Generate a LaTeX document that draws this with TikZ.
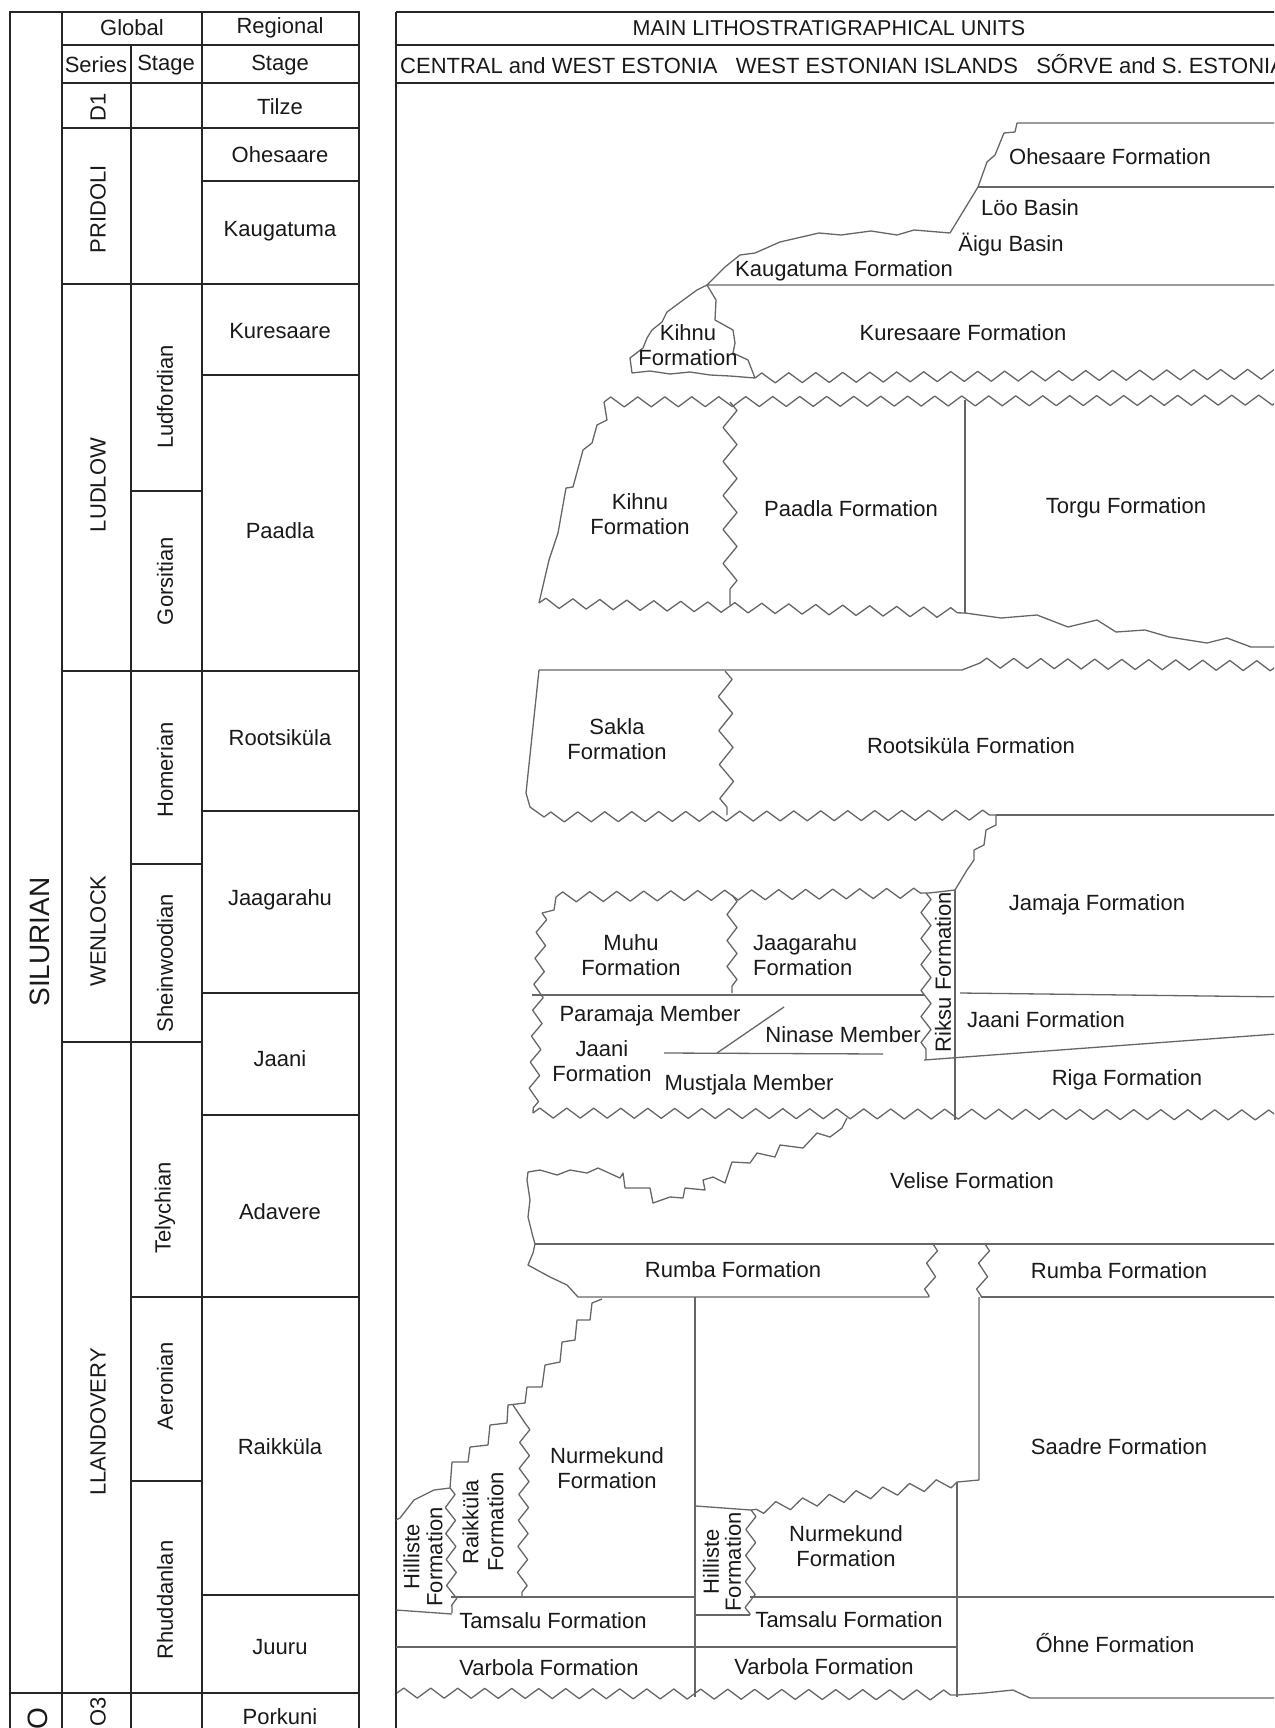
\documentclass[tikz,border=0pt]{standalone}
\usepackage{fontspec}
\setmainfont{Liberation Sans}
\usetikzlibrary{decorations.pathmorphing}

\begin{document}
\begin{tikzpicture}
  [x=1pt,y=-1pt,
   txt/.style={font=\fontsize{22}{25}\selectfont,text=black!90,inner sep=0pt,align=center},
   vtxt/.style={txt,rotate=90},
   grid/.style={line width=1.2pt,draw=black!85},
   unit/.style={line width=1.3pt,draw=black!60,line join=round},
   wavy/.style={unit,decorate,decoration={zigzag,segment length=27pt,amplitude=5pt}},
   vzig/.style={unit,decorate,decoration={zigzag,segment length=34pt,amplitude=7pt}},
   szig/.style={unit,decorate,decoration={zigzag,segment length=26pt,amplitude=5pt}}]
  \useasboundingbox (0,0) rectangle (1274,1728);
  \clip (0,0) rectangle (1274,1728);

  % stratigraphic table
  \draw[grid] (10,12) rectangle (359,1760);
  \draw[grid] (62,12) -- (62,1760);
  \draw[grid] (202,12) -- (202,1760);
  \draw[grid] (131,45) -- (131,1760);
  \draw[grid] (62,45) -- (359,45);
  \draw[grid] (62,83) -- (359,83);
  \foreach \y in {128,284,671} \draw[grid] (62,\y) -- (359,\y);
  \draw[grid] (62,1042) -- (202,1042);
  \foreach \y in {491,864,1481} \draw[grid] (131,\y) -- (202,\y);
  \draw[grid] (131,1297) -- (359,1297);
  \foreach \y in {181,375,811,993,1115,1595} \draw[grid] (202,\y) -- (359,\y);
  \draw[grid] (10,1693) -- (359,1693);

  \node[txt] (global) at (132,28) {Global};
  \node[txt] (regional) at (280,28) {Regional};
  \node[txt] (series) at (96,65) {Series};
  \node[txt] (gstage) at (166,65) {Stage};
  \node[txt] (rstage) at (280,65) {Stage};
  \node[vtxt,font=\fontsize{28}{32}\selectfont] (silurian) at (40,942) {SILURIAN};
  \node[vtxt,font=\fontsize{28}{32}\selectfont] (ordov) at (38,1719) {O};
  \node[vtxt] (d1) at (98,107) {D1};
  \node[vtxt] (pridoli) at (98,209) {PRIDOLI};
  \node[vtxt] (ludlow) at (98,485) {LUDLOW};
  \node[vtxt] (wenlock) at (98,931) {WENLOCK};
  \node[vtxt] (llandovery) at (98,1422) {LLANDOVERY};
  \node[vtxt] (o3) at (98,1712) {O3};
  \node[vtxt] (ludfordian) at (165,397) {Ludfordian};
  \node[vtxt] (gorsitian) at (165,581) {Gorsitian};
  \node[vtxt] (homerian) at (165,770) {Homerian};
  \node[vtxt] (sheinwood) at (165,963) {Sheinwoodian};
  \node[vtxt] (telychian) at (165,1208) {Telychian};
  \node[vtxt] (aeronian) at (165,1386) {Aeronian};
  \node[vtxt] (rhuddan) at (165,1600) {Rhuddanlan};
  \node[txt] (tilze) at (280,107) {Tilze};
  \node[txt] (ohesaare) at (280,155) {Ohesaare};
  \node[txt] (kaugatuma) at (280,231) {Kaugatuma};
  \node[txt] (kuresaare) at (280,331) {Kuresaare};
  \node[txt] (paadla) at (280,531) {Paadla};
  \node[txt] (rootsikula) at (280,738) {Rootsiküla};
  \node[txt] (jaagarahu) at (280,900) {Jaagarahu};
  \node[txt] (jaani) at (280,1059) {Jaani};
  \node[txt] (adavere) at (280,1212) {Adavere};
  \node[txt] (raikkula) at (280,1447) {Raikküla};
  \node[txt] (juuru) at (280,1647) {Juuru};
  \node[txt] (porkuni) at (280,1717) {Porkuni};

  % lithostratigraphic units
  \draw[grid] (396,12) -- (1290,12);
  \draw[grid] (396,45) -- (1290,45);
  \draw[grid] (396,83) -- (1290,83);
  \draw[grid] (396,12) -- (396,1760);
  \node[txt,font=\fontsize{21.5}{25}\selectfont] (mainunits) at (829,28) {MAIN LITHOSTRATIGRAPHICAL UNITS};
  \node[txt,font=\fontsize{22}{25}\selectfont,anchor=west] (regions) at (400,64)
    {CENTRAL and WEST ESTONIA\ \ \ WEST ESTONIAN ISLANDS\ \ \ SŐRVE and S. ESTONIA};

  % Pridoli
  \draw[unit] (1290,123) -- (1017,123) -- (1015,132) -- (1004,133) -- (995,155) -- (987,162) -- (978,187) -- (950,233);
  \draw[unit] (978,187) -- (1290,187);
  \draw[unit] (950,233) -- (914,230) -- (897,235) -- (871,231) -- (841,235) -- (819,233) -- (780,242)
    -- (755,253) -- (740,255) -- (725,267) -- (707,285) -- (1290,285);
  \draw[unit] (707,285) -- (697,290) -- (686,298) -- (667,312) -- (662,322) -- (652,330) -- (647,338)
    -- (643,348) -- (630,358) -- (632,373) -- (650,371) -- (670,374) -- (690,372) -- (710,375) -- (730,376) -- (755,378);
  \draw[unit] (707,285) -- (716,300) -- (715,320) -- (733,330) -- (735,343) -- (733,353) -- (748,360) -- (755,378);
  \draw[wavy] (755,378) -- (1290,374);
  \node[txt] (ohesaarefm) at (1110,157) {Ohesaare Formation};
  \node[txt] (loo) at (1030,208) {Löo Basin};
  \node[txt] (aigu) at (1011,245) {Äigu Basin};
  \node[txt] (kaugatumafm) at (844,271) {Kaugatuma Formation};
  \node[txt] (kihnuup) at (688,345) {Kihnu\\Formation};
  \node[txt] (kuresaarefm) at (963,333) {Kuresaare Formation};

  % Paadla
  \draw[wavy] (604,402) -- (1290,400);
  \draw[unit] (604,402) -- (607,420) -- (597,425) -- (592,443) -- (583,450) -- (573,487) -- (566,488)
    -- (558,533) -- (549,560) -- (539,603);
  \draw[vzig] (730,402) -- (730,605);
  \draw[unit] (965,400) -- (965,613);
  \draw[wavy] (539,603) -- (965,613);
  \draw[unit] (965,613) -- (1001,618) -- (1037,615) -- (1068,627) -- (1097,620) -- (1116,632) -- (1145,630)
    -- (1169,637) -- (1207,643) -- (1227,638) -- (1251,647) -- (1290,647);
  \node[txt] (kihnu) at (640,514) {Kihnu\\Formation};
  \node[txt] (paadlafm) at (851,509) {Paadla Formation};
  \node[txt] (torgu) at (1126,508) {Torgu Formation};

  % Rootsikula
  \draw[unit] (539,670) -- (962,670) -- (980,663);
  \draw[wavy] (980,663) -- (1290,666);
  \draw[unit] (539,670) -- (526,793) -- (530,807) -- (544,817);
  \draw[vzig] (725,671) -- (727,815);
  \draw[wavy] (544,817) -- (996,815);
  \draw[unit] (996,815) -- (1290,815);
  \draw[unit] (996,815) -- (996,825) -- (986,830) -- (984,845) -- (974,850) -- (974,860) -- (967,870) -- (955,890);
  \node[txt] (sakla) at (617,739) {Sakla\\Formation};
  \node[txt] (rootsikulafm) at (971,746) {Rootsiküla Formation};

  % Jaagarahu and Jaani
  \draw[wavy] (556,897) -- (929,893);
  \draw[unit] (929,893) -- (955,890);
  \draw[unit] (556,897) -- (554,910) -- (542,913);
  \draw[szig] (542,913) -- (533,1113);
  \draw[szig] (732,895) -- (732,993);
  \draw[szig] (926,893) -- (926,1060);
  \draw[unit] (955,890) -- (955,1120);
  \draw[unit] (532,995) -- (924,995);
  \draw[unit] (960,993) -- (1290,997);
  \draw[unit] (924,1060) -- (1290,1033);
  \draw[unit] (717,1053) -- (784,1007);
  \draw[unit] (664,1053) -- (883,1054);
  \draw[wavy] (533,1113) -- (1290,1115);
  \node[txt] (muhu) at (631,955) {Muhu\\Formation};
  \node[txt,align=left,anchor=west] (jaagarahufm) at (753,955) {Jaagarahu\\Formation};
  \node[vtxt] (riksu) at (943,972) {Riksu Formation};
  \node[txt] (jamaja) at (1097,905) {Jamaja Formation};
  \node[txt] (paramaja) at (650,1016) {Paramaja Member};
  \node[txt] (ninase) at (843,1035) {Ninase Member};
  \node[txt] (jaanifm) at (602,1061) {Jaani\\Formation};
  \node[txt] (mustjala) at (749,1085) {Mustjala Member};
  \node[txt] (jaanifmr) at (1046,1020) {Jaani Formation};
  \node[txt] (riga) at (1127,1080) {Riga Formation};

  % Velise and Rumba
  \draw[unit] (847,1118) -- (842,1128) -- (830,1137) -- (817,1133) -- (803,1148) -- (780,1145) -- (775,1157)
    -- (757,1153) -- (750,1163) -- (732,1162) -- (725,1183) -- (713,1177) -- (703,1180) -- (705,1190)
    -- (685,1188) -- (683,1198) -- (670,1197) -- (653,1203) -- (650,1188) -- (625,1188) -- (623,1173)
    -- (620,1178) -- (598,1168) -- (587,1173) -- (570,1170) -- (557,1175) -- (540,1170) -- (528,1172)
    -- (527,1180) -- (530,1200) -- (528,1217) -- (533,1237) -- (535,1244);
  \draw[unit] (535,1244) -- (1290,1244);
  \draw[unit] (535,1244) -- (533,1253) -- (528,1265) -- (550,1277) -- (567,1285) -- (578,1297) -- (929,1297);
  \draw[szig] (933,1244) -- (929,1297);
  \draw[szig] (985,1244) -- (981,1297);
  \draw[unit] (981,1297) -- (1290,1297);
  \node[txt] (velise) at (972,1181) {Velise Formation};
  \node[txt] (rumbal) at (733,1270) {Rumba Formation};
  \node[txt] (rumbar) at (1119,1271) {Rumba Formation};

  % Raikkula and Juuru
  \draw[unit] (695,1297) -- (695,1697);
  \draw[unit] (979,1297) -- (979,1480) -- (957,1482);
  \draw[wavy] (957,1482) -- (751,1510);
  \draw[unit] (751,1510) -- (696,1506);
  \draw[unit] (957,1482) -- (957,1697);
  \draw[szig] (751,1510) -- (750,1615);
  \draw[unit] (696,1615) -- (750,1615);
  \draw[unit] (602,1299) -- (592,1303) -- (590,1320) -- (577,1320) -- (575,1340) -- (562,1342) -- (560,1362)
    -- (545,1365) -- (542,1387) -- (527,1387) -- (525,1403) -- (508,1405) -- (507,1423) -- (490,1425)
    -- (488,1445) -- (470,1447) -- (468,1462) -- (452,1462) -- (450,1488);
  \draw[unit] (513,1405) -- (525,1423);
  \draw[szig] (525,1423) -- (522,1597);
  \draw[szig] (450,1488) -- (452,1613);
  \draw[unit] (450,1488) -- (434,1490) -- (414,1500) -- (400,1518) -- (396,1520);
  \draw[unit] (396,1610) -- (452,1614);
  \draw[unit] (451,1597) -- (696,1597);
  \draw[unit] (750,1597) -- (1290,1597);
  \draw[unit] (396,1647) -- (957,1647);
  \draw[wavy] (397,1693) -- (957,1695);
  \draw[unit] (957,1695) -- (984,1693) -- (1013,1690) -- (1030,1698) -- (1290,1698);
  \node[txt] (nurmekundl) at (607,1468) {Nurmekund\\Formation};
  \node[txt] (saadre) at (1119,1447) {Saadre Formation};
  \node[vtxt] (raikkulafm) at (483,1522) {Raikküla\\Formation};
  \node[vtxt,font=\fontsize{22}{23}\selectfont] (hillistel) at (423,1557) {Hilliste\\Formation};
  \node[vtxt,font=\fontsize{22}{22}\selectfont] (hillister) at (722,1562) {Hilliste\\Formation};
  \node[txt] (nurmekundr) at (846,1546) {Nurmekund\\Formation};
  \node[txt] (tamsalul) at (553,1621) {Tamsalu Formation};
  \node[txt] (tamsalur) at (849,1620) {Tamsalu Formation};
  \node[txt] (varbolal) at (549,1668) {Varbola Formation};
  \node[txt] (varbolar) at (824,1667) {Varbola Formation};
  \node[txt] (ohne) at (1115,1643) {Őhne Formation};
\end{tikzpicture}
\end{document}
